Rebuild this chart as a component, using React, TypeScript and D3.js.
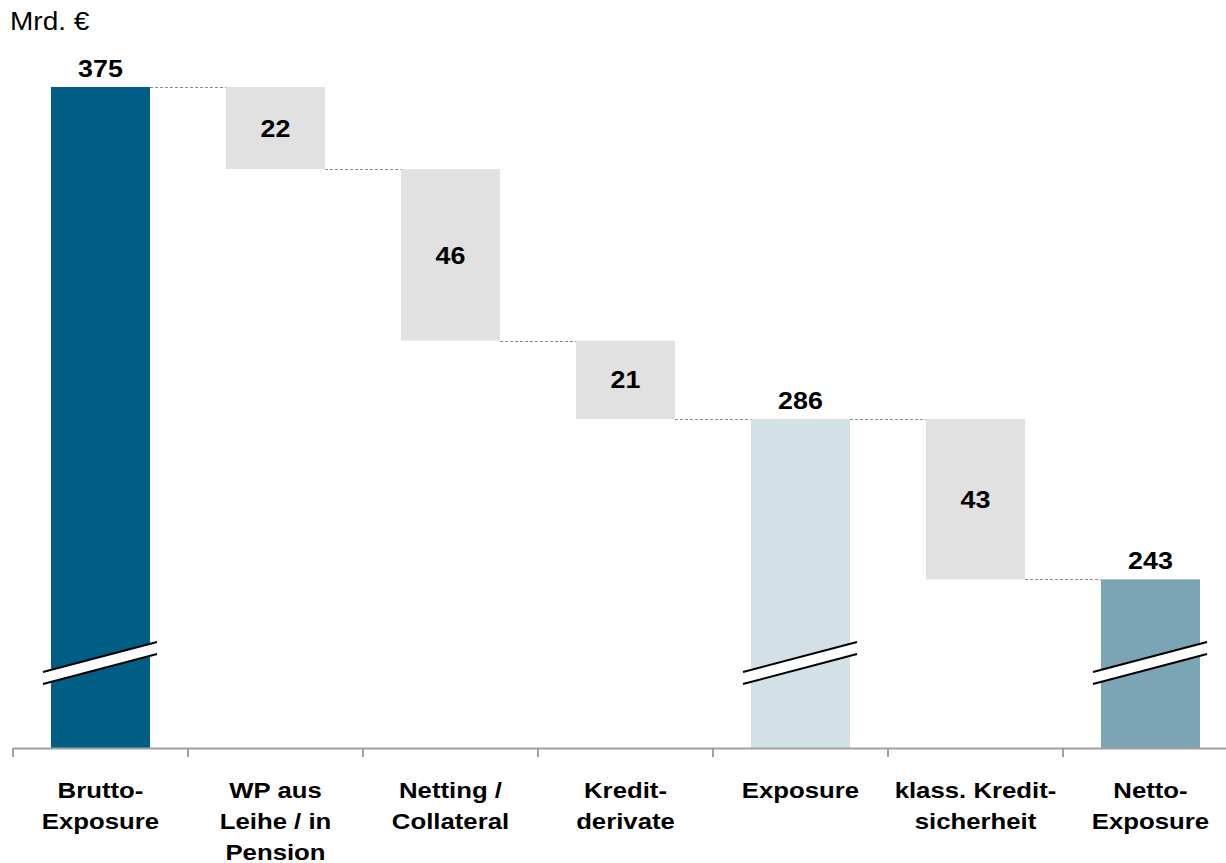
import React from "react";
import * as d3 from "d3";

const categories = [
  "Brutto-\nExposure",
  "WP aus\nLeihe / in\nPension",
  "Netting /\nCollateral",
  "Kredit-\nderivate",
  "Exposure",
  "klass. Kredit-\nsicherheit",
  "Netto-\nExposure",
];
const values = [375, -22, -46, -21, 286, -43, 243];
const kinds = ["total", "delta", "delta", "delta", "subtotal", "delta", "net"];
const unitLabel = "Mrd. €";

const W = 1226;
const H = 863;
const SX = 1.12;
const colors: Record<string, string> = {
  total: "#005E85",
  delta: "#E1E1E1",
  subtotal: "#D3E0E6",
  net: "#7BA4B4",
};
const FONT = "'Liberation Sans', Arial, Helvetica, sans-serif";

export default function App() {
  const x = d3
    .scaleBand<string>()
    .domain(categories)
    .range([13, 1238])
    .paddingInner(0.434)
    .paddingOuter(0.217);
  const y = d3.scaleLinear().domain([197.8, 375]).range([748, 87]);
  const step = x.step();
  const bw = x.bandwidth();

  let running = 0;
  const segs = values.map((v, i) => {
    let top: number, bottom: number, end: number;
    if (kinds[i] === "delta") {
      top = running;
      bottom = running + v;
      running = bottom;
      end = running;
    } else {
      running = v;
      top = v;
      bottom = y.domain()[0];
      end = v;
    }
    return { i, v, top, bottom, end, kind: kinds[i], cat: categories[i] };
  });

  const baseY = y(y.domain()[0]);

  return (
    <svg
      width={W}
      height={H}
      style={{ position: "absolute", left: 0, top: 0, background: "#fff" }}
      fontFamily={FONT}
    >
      <g transform={`translate(10,30) scale(${SX},1)`}>
        <text x={0} y={0} fontSize={25} fill="#000">
          {unitLabel}
        </text>
      </g>

      {segs.slice(0, -1).map((s, i) => {
        const x1 = (x(s.cat) as number) + bw;
        const x2 = x(categories[i + 1]) as number;
        const yy = Math.round(y(s.end)) + 0.5;
        return (
          <line
            key={"c" + i}
            x1={x1}
            x2={x2}
            y1={yy}
            y2={yy}
            stroke="#8C8C8C"
            strokeWidth={1}
            strokeDasharray="3,2"
          />
        );
      })}

      {segs.map((s) => {
        const bx = x(s.cat) as number;
        const y0 = y(s.top);
        const y1 = y(s.bottom);
        return (
          <rect
            key={"b" + s.i}
            x={bx}
            y={y0}
            width={bw}
            height={y1 - y0}
            fill={colors[s.kind]}
          />
        );
      })}

      {segs
        .filter((s) => s.kind !== "delta")
        .map((s) => {
          const bx = x(s.cat) as number;
          const xl = bx - 8;
          const xr = bx + bw + 7;
          const yl = 672;
          const yr = 642;
          const g = 12;
          return (
            <g key={"br" + s.i}>
              <polygon
                points={`${xl},${yl} ${xr},${yr} ${xr},${yr + g} ${xl},${yl + g}`}
                fill="#fff"
              />
              <line x1={xl} y1={yl} x2={xr} y2={yr} stroke="#000" strokeWidth={2} />
              <line x1={xl} y1={yl + g} x2={xr} y2={yr + g} stroke="#000" strokeWidth={2} />
            </g>
          );
        })}

      {segs.map((s) => {
        const cx = (x(s.cat) as number) + bw / 2;
        const isDelta = s.kind === "delta";
        const ty = isDelta ? (y(s.top) + y(s.bottom)) / 2 : y(s.top) - 10;
        return (
          <g key={"v" + s.i} transform={`translate(${cx},${ty}) scale(${SX},1)`}>
            <text
              x={0}
              y={0}
              dy={isDelta ? "0.36em" : 0}
              textAnchor="middle"
              fontWeight="bold"
              fontSize={24}
            >
              {isDelta ? Math.abs(s.v) : s.v}
            </text>
          </g>
        );
      })}

      <line x1={13} x2={W} y1={baseY + 0.5} y2={baseY + 0.5} stroke="#A0A0A0" strokeWidth={2} />
      {d3.range(categories.length + 1).map((k) => {
        const tx = 13 + k * step;
        return (
          <line
            key={"t" + k}
            x1={tx}
            x2={tx}
            y1={baseY}
            y2={baseY + 9}
            stroke="#A0A0A0"
            strokeWidth={2}
          />
        );
      })}

      {categories.map((c) => {
        const cx = (x(c) as number) + bw / 2;
        const lines = c.split("\n");
        return (
          <g key={"l" + c} transform={`translate(${cx},798) scale(${SX},1)`}>
            <text x={0} y={0} textAnchor="middle" fontWeight="bold" fontSize={23}>
              {lines.map((ln, j) => (
                <tspan key={j} x={0} dy={j === 0 ? 0 : 31}>
                  {ln}
                </tspan>
              ))}
            </text>
          </g>
        );
      })}
    </svg>
  );
}
